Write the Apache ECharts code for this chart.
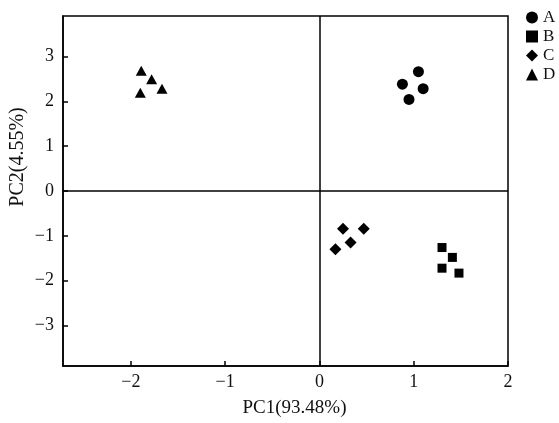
<!DOCTYPE html>
<html>
<head>
<meta charset="utf-8">
<script src="https://cdn.jsdelivr.net/npm/echarts@6/dist/echarts.min.js"></script>
<style>
html,body{margin:0;padding:0;background:#fff;}
#chart{width:559px;height:423px;}
</style>
</head>
<body>
<div id="chart"></div>
<script>
// Data
const groupNames = ['A', 'B', 'C', 'D'];
const groupSymbols = ['circle', 'rect', 'diamond', 'triangle'];
const groupA = [[1.05, 2.66], [0.88, 2.38], [1.10, 2.28], [0.95, 2.04]];
const groupB = [[1.30, -1.26], [1.41, -1.48], [1.30, -1.72], [1.48, -1.83]];
const groupC = [[0.25, -0.84], [0.47, -0.84], [0.33, -1.15], [0.17, -1.30]];
const groupD = [[-1.89, 2.68], [-1.78, 2.49], [-1.67, 2.28], [-1.90, 2.19]];
const xTicks = [-2, -1, 0, 1, 2];
const yTicks = [-3, -2, -1, 0, 1, 2, 3];
const xName = 'PC1(93.48%)';
const yName = 'PC2(4.55%)';

const groups = [groupA, groupB, groupC, groupD];
const sizes = [11, 9, 12, [11, 10]];
const font = '"Liberation Serif", "DejaVu Serif", serif';
const ink = '#111';
const fmt = v => String(v).replace('-', '\u2212');

const chart = echarts.init(document.getElementById('chart'), null, {renderer: 'canvas'});
const series = groups.map((g, i) => ({
  name: groupNames[i],
  type: 'scatter',
  data: g,
  symbol: groupSymbols[i],
  symbolSize: sizes[i],
  itemStyle: {color: '#000', opacity: 1},
  emphasis: {disabled: true}
}));
series[0].markLine = {
  silent: true,
  symbol: 'none',
  label: {show: false},
  lineStyle: {color: '#000', width: 1.5, type: 'solid'},
  data: [{xAxis: 0}, {yAxis: 0}]
};

chart.setOption({
  animation: false,
  backgroundColor: '#fff',
  grid: {left: 62, right: 51, top: 16, bottom: 56, show: true, borderColor: '#000', borderWidth: 1.5},
  legend: {
    orient: 'vertical',
    left: 521,
    top: 4,
    itemWidth: 12,
    itemHeight: 12,
    itemGap: 2,
    itemTextGap: 5,
    textStyle: {fontFamily: font, fontSize: 17, color: ink, lineHeight: 16},
    data: groupNames.map((n, i) => ({name: n, icon: groupSymbols[i], itemStyle: {color: '#000', opacity: 1}}))
  },
  xAxis: {
    type: 'value',
    min: -2.72,
    max: 2,
    name: xName,
    nameLocation: 'middle',
    nameGap: 33,
    nameMoveOverlap: false,
    nameTextStyle: {fontFamily: font, fontSize: 19, color: ink, padding: [0, 0, 0, 18]},
    axisLine: {show: true, onZero: false, lineStyle: {color: '#000', width: 1.5}},
    axisTick: {show: true, inside: true, length: 5, lineStyle: {color: '#000', width: 1.5}, customValues: xTicks},
    axisLabel: {fontFamily: font, fontSize: 18, color: ink, margin: 7, customValues: xTicks, formatter: fmt},
    splitLine: {show: false}
  },
  yAxis: {
    type: 'value',
    min: -3.9,
    max: 3.9,
    name: yName,
    nameLocation: 'middle',
    nameGap: 35,
    nameMoveOverlap: false,
    nameRotate: 90,
    nameTextStyle: {fontFamily: font, fontSize: 20, color: ink, padding: [0, 0, 0, 68]},
    axisLine: {show: true, onZero: false, lineStyle: {color: '#000', width: 1.5}},
    axisTick: {show: true, inside: true, length: 5, lineStyle: {color: '#000', width: 1.5}, customValues: yTicks},
    axisLabel: {fontFamily: font, fontSize: 18, color: ink, margin: 9, customValues: yTicks, formatter: fmt},
    splitLine: {show: false}
  },
  series: series
});
</script>
</body>
</html>
